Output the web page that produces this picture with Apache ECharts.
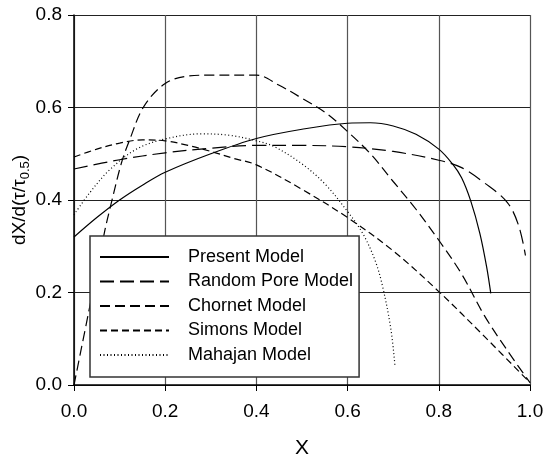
<!DOCTYPE html>
<html>
<head>
<meta charset="utf-8">
<script src="https://cdn.jsdelivr.net/npm/echarts@6/dist/echarts.min.js"></script>
<style>
  html, body { margin: 0; padding: 0; background: #fff; }
  #chart { width: 545px; height: 459px; }
</style>
</head>
<body>
<div id="chart"></div>
<script>
// values, [X, dX/d(t/t0.5)]
var presentModel = [[0, 0.32], [0.05, 0.362], [0.1, 0.4], [0.15, 0.432], [0.2, 0.46], [0.3, 0.5],
  [0.4, 0.533], [0.5, 0.553], [0.6, 0.566], [0.65, 0.567], [0.7, 0.56], [0.75, 0.542],
  [0.8, 0.51], [0.83, 0.478], [0.85, 0.448], [0.87, 0.398], [0.89, 0.328], [0.905, 0.255], [0.914, 0.198]];
var randomPoreModel = [[0, 0.467], [0.1, 0.487], [0.2, 0.502], [0.3, 0.512], [0.4, 0.518], [0.5, 0.518],
  [0.6, 0.515], [0.7, 0.505], [0.8, 0.486], [0.85, 0.47], [0.9, 0.437], [0.95, 0.395],
  [0.975, 0.345], [0.99, 0.28]];
var chornetModel = [[0, 0], [0.033, 0.162], [0.067, 0.331], [0.08, 0.386], [0.104, 0.48], [0.122, 0.53],
  [0.153, 0.602], [0.2, 0.652], [0.25, 0.668], [0.3, 0.67], [0.4, 0.67], [0.45, 0.648], [0.5, 0.62],
  [0.55, 0.59], [0.6, 0.548], [0.65, 0.5], [0.7, 0.44], [0.75, 0.38], [0.8, 0.313], [0.85, 0.24],
  [0.9, 0.15], [0.95, 0.075], [1.0, 0.005]];
var simonsModel = [[0, 0.493], [0.05, 0.51], [0.1, 0.523], [0.15, 0.53], [0.2, 0.528], [0.25, 0.518],
  [0.3, 0.505], [0.35, 0.49], [0.4, 0.476], [0.5, 0.423], [0.6, 0.362], [0.7, 0.29], [0.8, 0.202],
  [0.9, 0.105], [1.0, 0.005]];
var mahajanModel = [[0, 0.368], [0.034, 0.415], [0.078, 0.465], [0.137, 0.51], [0.2, 0.532], [0.28, 0.543],
  [0.34, 0.54], [0.4, 0.528], [0.44, 0.515], [0.5, 0.478], [0.55, 0.435], [0.6, 0.375], [0.633, 0.328],
  [0.66, 0.27], [0.677, 0.212], [0.695, 0.12], [0.704, 0.04]];
var seriesNames = ['Present Model', 'Random Pore Model', 'Chornet Model', 'Simons Model', 'Mahajan Model'];

var font = 'Liberation Sans, Arial, sans-serif';

var makeLine = function(name, data, type) {
  return {
    name: name,
    type: 'line',
    data: data,
    smooth: 0.35,
    symbol: 'none',
    color: '#000',
    lineStyle: { color: '#000', width: 1.2, type: type }
  };
};

var chart = echarts.init(document.getElementById('chart'));
chart.setOption({
  animation: false,
  backgroundColor: '#fff',
  grid: { left: 74, top: 15, right: 15, bottom: 74, containLabel: false, outerBoundsMode: 'none' },
  legend: {
    data: seriesNames,
    orient: 'vertical',
    left: 90,
    top: 236,
    itemWidth: 69,
    itemHeight: 16,
    itemGap: 6.5,
    padding: [12, 6, 13, 9],
    backgroundColor: '#fff',
    borderColor: '#333',
    borderWidth: 1.5,
    borderRadius: 0,
    itemStyle: { color: 'rgba(0,0,0,0)', borderWidth: 0 },
    textStyle: { fontFamily: font, fontSize: 18, color: '#000', lineHeight: 16, padding: [0, 0, 0, 14] }
  },
  xAxis: {
    type: 'value',
    min: 0, max: 1, interval: 0.2,
    name: 'X',
    nameLocation: 'middle',
    nameGap: 53,
    nameMoveOverlap: false,
    nameTextStyle: { fontFamily: font, fontSize: 21, color: '#000' },
    axisLine: { lineStyle: { color: '#000', width: 1.5 } },
    axisTick: { length: 6, lineStyle: { color: '#000' } },
    axisLabel: { fontFamily: font, fontSize: 19, color: '#000', margin: 17,
      formatter: function(v) { return v.toFixed(1); } },
    splitLine: { lineStyle: { color: '#555', width: 1.2 } }
  },
  yAxis: {
    type: 'value',
    min: 0, max: 0.8, interval: 0.2,
    name: '{a|dX/d(τ/τ}{s|0.5}{a|)}',
    nameLocation: 'middle',
    nameGap: 42,
    nameMoveOverlap: false,
    nameTextStyle: {
      rich: {
        a: { fontFamily: font, fontSize: 19, color: '#000', lineHeight: 24, verticalAlign: 'middle' },
        s: { fontFamily: font, fontSize: 13, color: '#000', lineHeight: 24, verticalAlign: 'bottom' }
      }
    },
    axisLine: { show: true, lineStyle: { color: '#000', width: 1.5 } },
    axisTick: { show: true, length: 6, lineStyle: { color: '#000' } },
    axisLabel: { fontFamily: font, fontSize: 19, color: '#000', margin: 12,
      formatter: function(v) { return v.toFixed(1); } },
    splitLine: { lineStyle: { color: '#222', width: 1.2 } }
  },
  series: [
    makeLine(seriesNames[0], presentModel, 'solid'),
    makeLine(seriesNames[1], randomPoreModel, [14, 6]),
    makeLine(seriesNames[2], chornetModel, [10, 5]),
    makeLine(seriesNames[3], simonsModel, [7, 4]),
    makeLine(seriesNames[4], mahajanModel, [1, 2.5])
  ]
});
</script>
</body>
</html>
